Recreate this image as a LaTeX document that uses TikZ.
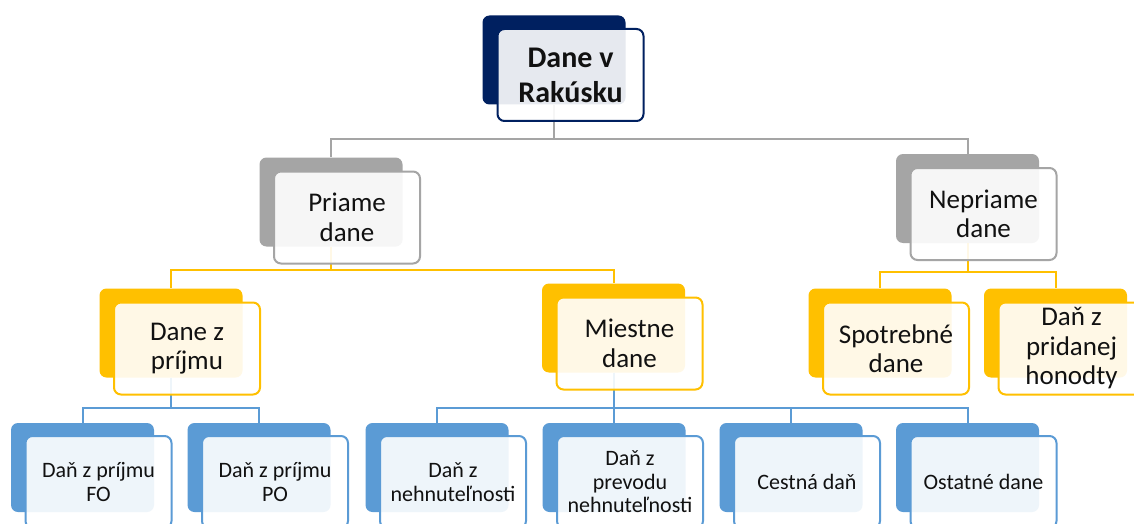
\documentclass[tikz,border=0pt]{standalone}
\usepackage{fontspec}
\setmainfont{Carlito}
\definecolor{navy}{HTML}{002060}
\definecolor{grayc}{HTML}{A5A5A5}
\definecolor{gold}{HTML}{FFC000}
\definecolor{blu}{HTML}{5B9BD5}
\definecolor{txt}{HTML}{111111}
\tikzset{
  back/.style={rounded corners=7pt, minimum width=143pt, minimum height=89pt, inner sep=0pt},
  front/.style={rounded corners=7pt, minimum width=146pt, minimum height=92pt, fill=white,
    fill opacity=0.9, text opacity=1, line width=2pt, align=center, inner sep=2pt, text=txt},
  conn/.style={line width=2pt},
  ftop/.style={font=\fontsize{30}{35}\selectfont\bfseries},
  fmid/.style={font=\fontsize{27}{29.5}\selectfont},
  fsmall/.style={font=\fontsize{22}{23.5}\selectfont},
}
\begin{document}
\begin{tikzpicture}[x=1pt,y=-1pt]
\clip (0,0) rectangle (1134,524);
\fill[white] (0,0) rectangle (1134,524);
% back shapes
\node[back, fill=navy] (topB) at (554,60) {};
\node[back, fill=grayc] (priB) at (331,202) {};
\node[back, fill=grayc] (nepB) at (967.5,198.5) {};
\node[back, fill=gold] (dzpB) at (171,333) {};
\node[back, fill=gold] (mieB) at (613.5,328) {};
\node[back, fill=gold] (spoB) at (880,333) {};
\node[back, fill=gold] (dphB) at (1055.5,333) {};
\node[back, fill=blu] (foB) at (82.5,467.5) {};
\node[back, fill=blu] (poB) at (259,467.5) {};
\node[back, fill=blu] (nehB) at (437,467.5) {};
\node[back, fill=blu] (prvB) at (614,467.5) {};
\node[back, fill=blu] (cesB) at (791,467.5) {};
\node[back, fill=blu] (ostB) at (967.5,467.5) {};
% connectors
\draw[conn, grayc] (topB.south) -- ++(0,34) -| (priB.north);
\draw[conn, grayc] (topB.south) -- ++(0,34) -| (nepB.north);
\draw[conn, gold] (priB.south) -- ++(0,23.5) -| (dzpB.north);
\draw[conn, gold] (priB.south) -- ++(0,23.5) -| (mieB.north);
\draw[conn, gold] (nepB.south) -- ++(0,29) -| (spoB.north);
\draw[conn, gold] (nepB.south) -- ++(0,29) -| (dphB.north);
\draw[conn, blu] (dzpB.south) -- ++(0,30.5) -| (foB.north);
\draw[conn, blu] (dzpB.south) -- ++(0,30.5) -| (poB.north);
\draw[conn, blu] (mieB.south) -- ++(0,35.5) -| (nehB.north);
\draw[conn, blu] (mieB.south) -- ++(0,35.5) -| (prvB.north);
\draw[conn, blu] (mieB.south) -- ++(0,35.5) -| (cesB.north);
\draw[conn, blu] (mieB.south) -- ++(0,35.5) -| (ostB.north);
% front shapes
\node[front, draw=navy, ftop] (top) at (570.5,75) {Dane v\\Rakúsku};
\node[front, draw=grayc, fmid] (pri) at (347,217.5) {Priame\\dane};
\node[front, draw=grayc, fmid] (nep) at (983.5,214) {Nepriame\\dane};
\node[front, draw=gold, fmid] (dzp) at (187,348.5) {Dane z\\príjmu};
\node[front, draw=gold, fmid] (mie) at (629.5,343.5) {Miestne\\dane};
\node[front, draw=gold, fmid] (spo) at (896,348.5) {Spotrebné\\dane};
\node[front, draw=gold, fmid] (dph) at (1071.5,348.5) {Daň z\\pridanej\\honodty};
\node[front, draw=blu, fsmall] (fo) at (98.5,482) {Daň z príjmu\\FO};
\node[front, draw=blu, fsmall] (po) at (275,482) {Daň z príjmu\\PO};
\node[front, draw=blu, fsmall] (neh) at (453,482) {Daň z\\nehnuteľnosti};
\node[front, draw=blu, fsmall] (prv) at (630,482) {Daň z\\prevodu\\nehnuteľnosti};
\node[front, draw=blu, fsmall] (ces) at (807,482) {Cestná daň};
\node[front, draw=blu, fsmall] (ost) at (983.5,482) {Ostatné dane};
\end{tikzpicture}
\end{document}
